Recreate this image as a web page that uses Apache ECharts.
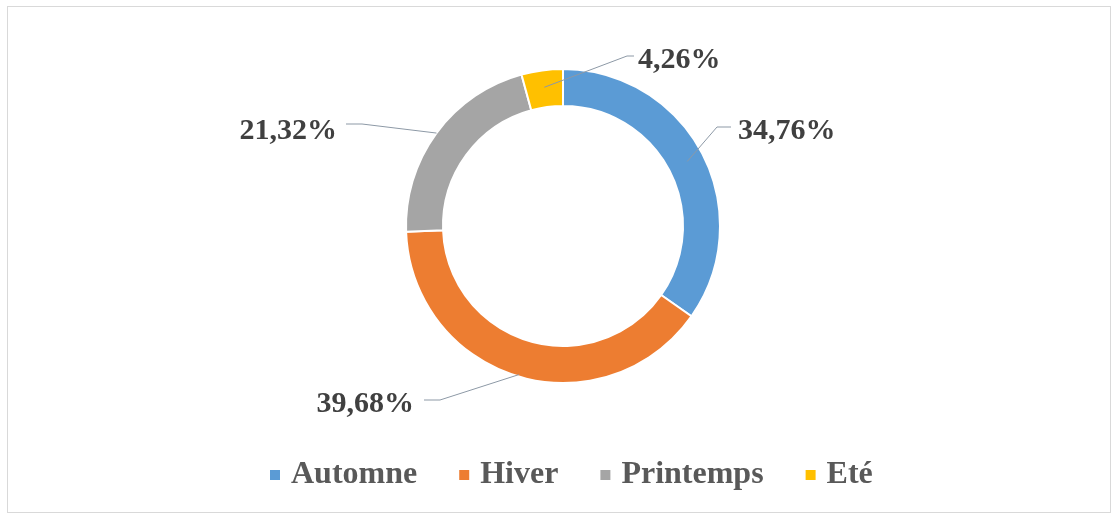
<!DOCTYPE html>
<html>
<head>
<meta charset="utf-8">
<script src="https://cdn.jsdelivr.net/npm/echarts@6/dist/echarts.min.js"></script>
<style>
  html, body { margin: 0; padding: 0; background: #ffffff; }
  #frame {
    position: absolute; left: 7px; top: 6px; width: 1104px; height: 507px;
    border: 1px solid #d9d9d9; box-sizing: border-box;
  }
  #chart { position: absolute; left: 0; top: 0; width: 1113px; height: 517px; }
</style>
</head>
<body>
<div id="frame"></div>
<div id="chart"></div>
<script>
// Seasonal shares (percent)
const seasons = ['Automne', 'Hiver', 'Printemps', 'Eté'];
const shares = [34.76, 39.68, 21.32, 4.26];
const colors = ['#5B9BD5', '#ED7D31', '#A5A5A5', '#FFC000'];

// Ring geometry
const CX = 563, CY = 226, R_IN = 120, R_OUT = 157;

// Percentage label placement: leader start depth in the ring, elbow, end, text anchor
const labelPlacement = [
  { startR: 140, elbow: [717, 127], end: [731, 127], text: [738, 131], align: 'left' },
  { startR: 155, elbow: [440, 400], end: [424, 400], text: [414, 404], align: 'right' },
  { startR: 157, elbow: [362, 124], end: [346, 124], text: [337, 131], align: 'right' },
  { startR: 140, elbow: [627, 56], end: [634, 56], text: [638, 60], align: 'left' }
];

const LABEL_FONT = 'Liberation Serif';

function fmt(v) { return v.toFixed(2).replace('.', ',') + '%'; }

// Mid angle of each slice, clockwise from 12 o'clock
const total = shares.reduce((a, b) => a + b, 0);
let acc = 0;
const midAngles = shares.map(v => { const m = (acc + v / 2) / total * 2 * Math.PI; acc += v; return m; });
function ringPoint(i, r) {
  const a = midAngles[i];
  return [CX + r * Math.sin(a), CY - r * Math.cos(a)];
}

const pieData = seasons.map((s, i) => ({ name: s, value: shares[i] }));

const chart = echarts.init(document.getElementById('chart'), null, { renderer: 'canvas' });
chart.setOption({
  animation: false,
  color: colors,
  legend: {
    top: 454,
    left: 263,
    itemWidth: 12,
    itemHeight: 12,
    itemGap: 40,
    icon: 'rect',
    textStyle: {
      fontFamily: LABEL_FONT, fontWeight: 'bold', fontSize: 32, color: '#595959',
      padding: [0, 0, 0, 5]
    },
    data: seasons
  },
  series: [
    {
      // coloured ring
      type: 'pie',
      center: [CX, CY],
      radius: [R_IN, R_OUT],
      startAngle: 90,
      clockwise: true,
      z: 2,
      itemStyle: { borderColor: '#ffffff', borderWidth: 2 },
      label: { show: false },
      labelLine: { show: false },
      data: pieData
    },
    {
      // transparent overlay carrying the percentage labels, so leaders draw over the ring
      type: 'pie',
      center: [CX, CY],
      radius: [R_IN, R_OUT],
      startAngle: 90,
      clockwise: true,
      z: 5,
      silent: true,
      avoidLabelOverlap: false,
      itemStyle: { color: 'rgba(0,0,0,0)', borderWidth: 0 },
      label: {
        show: true,
        position: 'outside',
        formatter: p => fmt(p.value),
        fontFamily: LABEL_FONT,
        fontWeight: 'bold',
        fontSize: 30,
        color: '#404040'
      },
      labelLine: { show: true, lineStyle: { color: '#8d99a6', width: 1 } },
      labelLayout: function (params) {
        const i = params.dataIndex;
        const pl = labelPlacement[i];
        return {
          x: pl.text[0],
          y: pl.text[1],
          align: pl.align,
          verticalAlign: 'middle',
          labelLinePoints: [ringPoint(i, pl.startR), pl.elbow, pl.end]
        };
      },
      data: pieData
    }
  ]
});
</script>
</body>
</html>
